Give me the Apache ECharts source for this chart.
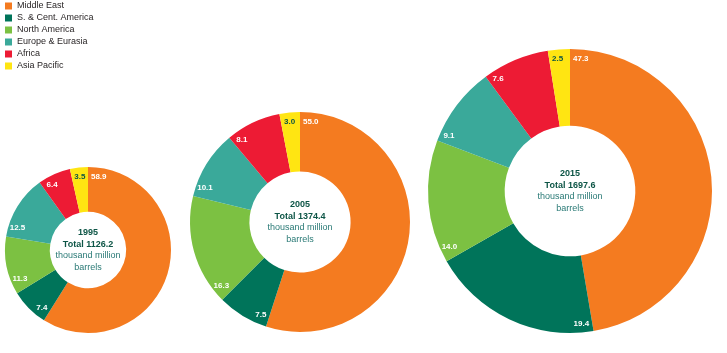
<!DOCTYPE html>
<html>
<head>
<meta charset="utf-8">
<script src="https://cdn.jsdelivr.net/npm/echarts@6/dist/echarts.min.js"></script>
<style>
  html, body { margin: 0; padding: 0; background: #fff; }
  #chart { width: 727px; height: 353px; }
</style>
</head>
<body>
<div id="chart"></div>
<script>
// data
var regions = ['Middle East', 'S. & Cent. America', 'North America', 'Europe & Eurasia', 'Africa', 'Asia Pacific'];
var years = ['1995', '2005', '2015'];
var totals = ['1126.2', '1374.4', '1697.6'];
var share1995 = [58.9, 7.4, 11.3, 12.5, 6.4, 3.5];
var share2005 = [55.0, 7.5, 16.3, 10.1, 8.1, 3.0];
var share2015 = [47.3, 19.4, 14.0, 9.1, 7.6, 2.5];
var shares = [share1995, share2005, share2015];

// layout / style
var colors = ['#f47b20', '#00745a', '#7cc142', '#3aa99a', '#ed1b34', '#ffe512'];
var centers = [[88, 250], [300, 222], [570, 191]];
var radii = [83, 110, 142];
var font = 'Liberation Sans, Arial, sans-serif';

// put each value label just past the start edge of its slice, near the rim
function labelAt(k) {
    return function (p) {
        var vals = shares[k];
        var sum = 0, before = 0;
        for (var i = 0; i < vals.length; i++) {
            sum += vals[i];
            if (i < p.dataIndex) before += vals[i];
        }
        var a0 = before / sum * Math.PI * 2;
        var span = vals[p.dataIndex] / sum * Math.PI * 2;
        var r = radii[k] - 9;
        var d = Math.min((p.labelRect.width / 2 + 3) / r, span / 2);
        var a = a0 + d;
        return {
            x: centers[k][0] + r * Math.sin(a),
            y: centers[k][1] - r * Math.cos(a),
            align: 'center',
            verticalAlign: 'middle'
        };
    };
}

var option = {
    animation: false,
    color: colors,
    legend: {
        orient: 'vertical',
        left: 5,
        top: 0,
        padding: 0,
        itemWidth: 7,
        itemHeight: 7,
        itemGap: 0,
        icon: 'rect',
        selectedMode: false,
        data: regions,
        textStyle: { fontSize: 9, lineHeight: 12, color: '#231f20', fontFamily: font }
    },
    title: years.map(function (y, k) {
        return {
            text: '{b|' + y + '}\n{b|Total ' + totals[k] + '}\n{n|thousand million}\n{n|barrels}',
            left: centers[k][0],
            top: centers[k][1],
            padding: 0,
            textAlign: 'center',
            textVerticalAlign: 'middle',
            textStyle: {
                fontWeight: 'normal',
                rich: {
                    b: { fontSize: 9, fontWeight: 'bold', color: '#0d5546', lineHeight: 11.5, fontFamily: font },
                    n: { fontSize: 9, fontWeight: 'normal', color: '#2a7a76', lineHeight: 11.5, fontFamily: font }
                }
            }
        };
    }),
    series: shares.map(function (vals, k) {
        return {
            type: 'pie',
            name: years[k],
            center: centers[k],
            radius: [radii[k] * 0.46, radii[k]],
            startAngle: 90,
            clockwise: true,
            silent: true,
            itemStyle: { borderWidth: 0 },
            label: {
                position: 'inside',
                color: '#fff',
                fontWeight: 'bold',
                fontSize: 8,
                fontFamily: font,
                formatter: function (p) { return p.value.toFixed(1); }
            },
            labelLine: { show: false },
            labelLayout: labelAt(k),
            data: regions.map(function (n, i) {
                var item = { name: n, value: vals[i] };
                if (i === 5) item.label = { color: '#0d5546' };
                return item;
            })
        };
    })
};

var myChart = echarts.init(document.getElementById('chart'));
myChart.setOption(option);
</script>
</body>
</html>
